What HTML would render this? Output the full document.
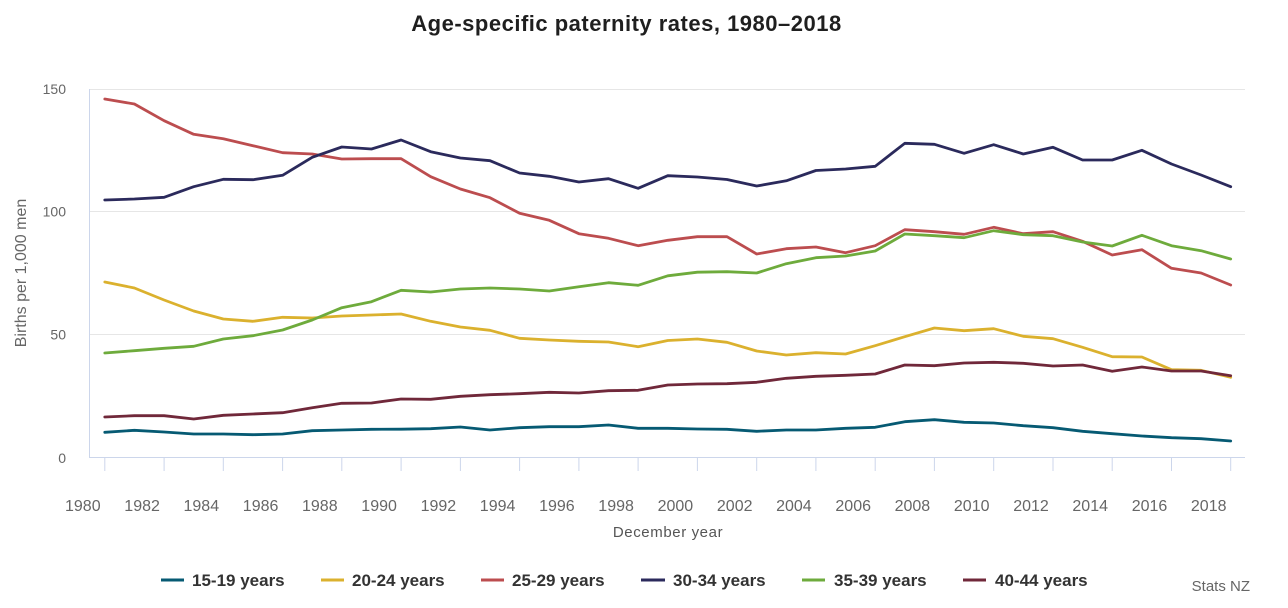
<!DOCTYPE html>
<html>
<head>
<meta charset="utf-8">
<style>
html,body{margin:0;padding:0;background:#fff;}
svg{display:block;font-family:"Liberation Sans",Arial,sans-serif;}
</style>
</head>
<body>
<svg width="1288" height="608" viewBox="0 0 1288 608" xmlns="http://www.w3.org/2000/svg">
<rect width="1288" height="608" fill="#fff"/>
<!-- Title -->
<text x="626.5" y="31" text-anchor="middle" font-size="22" font-weight="bold" fill="#1f1f1f" letter-spacing="0.5">Age-specific paternity rates, 1980–2018</text>

<!-- gridlines -->
<g stroke="#e6e6e6" stroke-width="1">
<line x1="89" y1="89.5" x2="1245" y2="89.5"/>
<line x1="89" y1="211.5" x2="1245" y2="211.5"/>
<line x1="89" y1="334.5" x2="1245" y2="334.5"/>
</g>
<!-- axes -->
<g stroke="#ccd6eb" stroke-width="1">
<line x1="89.5" y1="89" x2="89.5" y2="458"/>
<line x1="89" y1="457.5" x2="1245" y2="457.5"/>
<line x1="104.8" y1="457.5" x2="104.8" y2="471"/>
<line x1="164.1" y1="457.5" x2="164.1" y2="471"/>
<line x1="223.3" y1="457.5" x2="223.3" y2="471"/>
<line x1="282.6" y1="457.5" x2="282.6" y2="471"/>
<line x1="341.8" y1="457.5" x2="341.8" y2="471"/>
<line x1="401.1" y1="457.5" x2="401.1" y2="471"/>
<line x1="460.4" y1="457.5" x2="460.4" y2="471"/>
<line x1="519.6" y1="457.5" x2="519.6" y2="471"/>
<line x1="578.9" y1="457.5" x2="578.9" y2="471"/>
<line x1="638.1" y1="457.5" x2="638.1" y2="471"/>
<line x1="697.4" y1="457.5" x2="697.4" y2="471"/>
<line x1="756.7" y1="457.5" x2="756.7" y2="471"/>
<line x1="815.9" y1="457.5" x2="815.9" y2="471"/>
<line x1="875.2" y1="457.5" x2="875.2" y2="471"/>
<line x1="934.4" y1="457.5" x2="934.4" y2="471"/>
<line x1="993.7" y1="457.5" x2="993.7" y2="471"/>
<line x1="1053.0" y1="457.5" x2="1053.0" y2="471"/>
<line x1="1112.2" y1="457.5" x2="1112.2" y2="471"/>
<line x1="1171.5" y1="457.5" x2="1171.5" y2="471"/>
<line x1="1230.7" y1="457.5" x2="1230.7" y2="471"/>
</g>

<!-- y labels -->
<g font-size="14" fill="#666" text-anchor="end">
<text x="66" y="94">150</text>
<text x="66" y="216.7">100</text>
<text x="66" y="339.3">50</text>
<text x="66" y="463">0</text>
</g>
<text transform="translate(26,273) rotate(-90)" text-anchor="middle" font-size="16" fill="#666">Births per 1,000 men</text>

<!-- x labels -->
<g font-size="16" fill="#666" text-anchor="middle">
<text x="82.8" y="511">1980</text>
<text x="142.1" y="511">1982</text>
<text x="201.3" y="511">1984</text>
<text x="260.6" y="511">1986</text>
<text x="319.8" y="511">1988</text>
<text x="379.1" y="511">1990</text>
<text x="438.4" y="511">1992</text>
<text x="497.6" y="511">1994</text>
<text x="556.9" y="511">1996</text>
<text x="616.1" y="511">1998</text>
<text x="675.4" y="511">2000</text>
<text x="734.7" y="511">2002</text>
<text x="793.9" y="511">2004</text>
<text x="853.2" y="511">2006</text>
<text x="912.4" y="511">2008</text>
<text x="971.7" y="511">2010</text>
<text x="1031.0" y="511">2012</text>
<text x="1090.2" y="511">2014</text>
<text x="1149.5" y="511">2016</text>
<text x="1208.7" y="511">2018</text>
</g>
<text x="668" y="537" text-anchor="middle" font-size="15" fill="#555" letter-spacing="0.6">December year</text>

<!-- series -->
<g fill="none" stroke-width="2.8" stroke-linejoin="round" stroke-linecap="round">
<!-- 15-19 -->
<polyline stroke="#065a73" points="104.8,432.3 134.4,430.3 164.1,432 193.7,434 223.3,434 253.0,434.7 282.6,434 312.2,430.7 341.8,430 371.5,429.3 401.1,429.2 430.7,428.7 460.4,427 490.0,430 519.6,427.7 549.3,426.7 578.9,426.7 608.5,425 638.1,428.3 667.8,428.3 697.4,429 727.0,429.3 756.7,431.3 786.3,430 815.9,430 845.6,428.3 875.2,427.3 904.8,421.7 934.4,419.7 964.1,422.3 993.7,423 1023.3,425.7 1053.0,427.7 1082.6,431.3 1112.2,433.7 1141.9,436 1171.5,437.7 1201.1,438.7 1230.7,441"/>
<!-- 20-24 -->
<polyline stroke="#dbb12e" points="104.8,282 134.4,288 164.1,300 193.7,311 223.3,319 253.0,321.3 282.6,317.3 312.2,318 341.8,316 371.5,315 401.1,314 430.7,321.3 460.4,327 490.0,330.3 519.6,338.3 549.3,340 578.9,341.3 608.5,342 638.1,346.7 667.8,340.5 697.4,339 727.0,342.3 756.7,351 786.3,355 815.9,352.7 845.6,354 875.2,345.7 904.8,336.7 934.4,328 964.1,330.7 993.7,328.7 1023.3,336.3 1053.0,338.7 1082.6,347.3 1112.2,356.7 1141.9,357 1171.5,369.7 1201.1,370.3 1230.7,377.3"/>
<!-- 25-29 -->
<polyline stroke="#bc4d4f" points="104.8,99 134.4,104 164.1,120.7 193.7,134.3 223.3,138.7 253.0,145.7 282.6,152.7 312.2,154 341.8,159 371.5,158.7 401.1,158.7 430.7,176.7 460.4,189 490.0,197.7 519.6,213.3 549.3,220.3 578.9,233.7 608.5,238.3 638.1,245.7 667.8,240.3 697.4,236.7 727.0,236.7 756.7,254 786.3,248.7 815.9,247 845.6,252.7 875.2,245.7 904.8,229.7 934.4,231.7 964.1,234.3 993.7,227.3 1023.3,233.7 1053.0,231.7 1082.6,241.3 1112.2,255 1141.9,249.7 1171.5,268.3 1201.1,273 1230.7,285"/>
<!-- 30-34 -->
<polyline stroke="#2b2a5c" points="104.8,200 134.4,199 164.1,197.3 193.7,186.7 223.3,179.3 253.0,179.7 282.6,175.3 312.2,157.3 341.8,147 371.5,149 401.1,140 430.7,151.7 460.4,158 490.0,160.7 519.6,173 549.3,176.3 578.9,182 608.5,178.7 638.1,188.3 667.8,175.7 697.4,177 727.0,179.5 756.7,186 786.3,180.8 815.9,170.5 845.6,169 875.2,166.3 904.8,143.3 934.4,144.3 964.1,153.3 993.7,144.7 1023.3,154 1053.0,147.3 1082.6,160 1112.2,160 1141.9,150.3 1171.5,164 1201.1,175 1230.7,186.7"/>
<!-- 35-39 -->
<polyline stroke="#6eab3c" points="104.8,353 134.4,350.7 164.1,348.3 193.7,346.3 223.3,339 253.0,335.7 282.6,330 312.2,320 341.8,307.7 371.5,301.7 401.1,290.3 430.7,292 460.4,289 490.0,288 519.6,289 549.3,291 578.9,286.7 608.5,282.7 638.1,285.3 667.8,275.8 697.4,272.2 727.0,271.7 756.7,273 786.3,263.7 815.9,257.7 845.6,256 875.2,251 904.8,234 934.4,235.7 964.1,237.7 993.7,230.7 1023.3,234.7 1053.0,235.7 1082.6,242 1112.2,246 1141.9,235.3 1171.5,245.7 1201.1,250.7 1230.7,259"/>
<!-- 40-44 -->
<polyline stroke="#70283a" points="104.8,417 134.4,415.7 164.1,415.7 193.7,419 223.3,415.3 253.0,414 282.6,412.7 312.2,407.7 341.8,403.3 371.5,403 401.1,399 430.7,399.3 460.4,396.3 490.0,394.7 519.6,393.7 549.3,392.3 578.9,393 608.5,390.7 638.1,390.3 667.8,385 697.4,384 727.0,383.7 756.7,382.3 786.3,378.3 815.9,376.3 845.6,375.3 875.2,374 904.8,365 934.4,365.7 964.1,363 993.7,362.3 1023.3,363.3 1053.0,366 1082.6,365 1112.2,371.3 1141.9,367 1171.5,371 1201.1,371 1230.7,375.7"/>
</g>

<!-- legend -->
<g stroke-width="3">
<line x1="161" y1="580" x2="184" y2="580" stroke="#065a73"/>
<line x1="321" y1="580" x2="344" y2="580" stroke="#dbb12e"/>
<line x1="481" y1="580" x2="504" y2="580" stroke="#bc4d4f"/>
<line x1="641" y1="580" x2="665" y2="580" stroke="#2b2a5c"/>
<line x1="802" y1="580" x2="825" y2="580" stroke="#6eab3c"/>
<line x1="963" y1="580" x2="986" y2="580" stroke="#70283a"/>
</g>
<g font-size="17" font-weight="bold" fill="#333">
<text x="192" y="586">15-19 years</text>
<text x="352" y="586">20-24 years</text>
<text x="512" y="586">25-29 years</text>
<text x="673" y="586">30-34 years</text>
<text x="834" y="586">35-39 years</text>
<text x="995" y="586">40-44 years</text>
</g>
<text x="1250" y="591" text-anchor="end" font-size="15" fill="#666">Stats NZ</text>
</svg>
</body>
</html>
